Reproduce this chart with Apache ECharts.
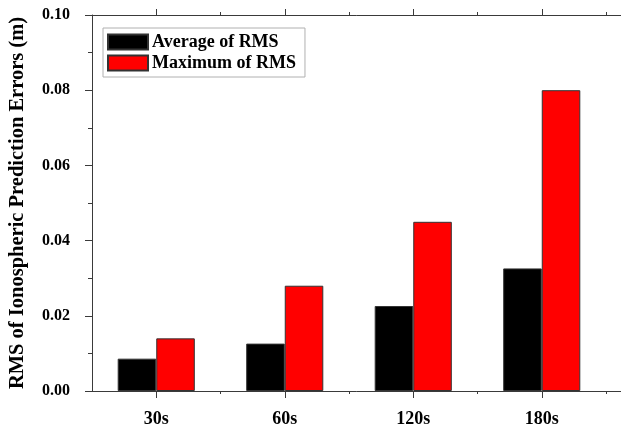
<!DOCTYPE html>
<html>
<head>
<meta charset="utf-8">
<script src="https://cdn.jsdelivr.net/npm/echarts@6/dist/echarts.min.js"></script>
<style>
  html, body { margin: 0; padding: 0; background: #fff; }
  #chart { width: 621px; height: 424px; }
</style>
</head>
<body>
<div id="chart"></div>
<script>
// Prediction intervals and RMS of ionospheric prediction errors (m)
const categories = ['30s', '60s', '120s', '180s'];
const averageRms = [0.0086, 0.0126, 0.0226, 0.0326];
const maximumRms = [0.014, 0.028, 0.045, 0.080];
const seriesNames = ['Average of RMS', 'Maximum of RMS'];

const FONT = '"Liberation Serif", "Times New Roman", serif';
const AXIS_COLOR = '#3a3a3a';

function tickAxis(position, len, align, showLabel) {
  return {
    type: 'category',
    gridIndex: 0,
    position: position,
    data: categories,
    axisLine: { show: false },
    axisTick: {
      show: true,
      alignWithLabel: align,
      inside: false,
      length: len,
      lineStyle: { color: AXIS_COLOR, width: 1 },
      interval: align ? 0 : function (i) { return i > 0; }
    },
    axisLabel: showLabel ? {
      show: true,
      margin: 19,
      color: '#000',
      fontFamily: FONT,
      fontWeight: 'bold',
      fontSize: 18
    } : { show: false },
    splitLine: { show: false }
  };
}

function frameLine(position) {
  return {
    type: 'value',
    gridIndex: 1,
    position: position,
    min: 0,
    max: 1,
    axisLine: { show: true, onZero: false, lineStyle: { color: AXIS_COLOR, width: 1 } },
    axisTick: { show: false },
    axisLabel: { show: false },
    splitLine: { show: false }
  };
}

const chart = echarts.init(document.getElementById('chart'), null, { renderer: 'canvas' });

chart.setOption({
  backgroundColor: '#fff',
  animation: false,
  grid: [
    { left: 92, right: 15, top: 15, bottom: 33, outerBoundsMode: 'none', containLabel: false },
    { left: 92, right: -6, top: 15, bottom: 33, outerBoundsMode: 'none', containLabel: false }
  ],
  legend: {
    left: 103,
    top: 28,
    orient: 'vertical',
    itemWidth: 40,
    itemHeight: 15,
    itemGap: 3,
    padding: [5, 9, 5, 4],
    borderColor: '#b0b0b0',
    borderWidth: 1,
    borderRadius: 0,
    icon: 'rect',
    textStyle: {
      color: '#000',
      fontFamily: FONT,
      fontWeight: 'bold',
      fontSize: 18,
      padding: [0, 0, 0, -1]
    },
    data: seriesNames
  },
  xAxis: [
    tickAxis('bottom', 7, true, true),
    tickAxis('bottom', 3, false, false),
    tickAxis('top', 6, true, false),
    tickAxis('top', 3, false, false),
    frameLine('bottom'),
    frameLine('top')
  ],
  yAxis: [
    {
      type: 'value',
      gridIndex: 0,
      position: 'left',
      min: 0,
      max: 0.1,
      interval: 0.02,
      name: 'RMS of Ionospheric Prediction Errors (m)',
      nameLocation: 'middle',
      nameGap: 64,
      nameTextStyle: {
        color: '#000',
        fontFamily: FONT,
        fontWeight: 'bold',
        fontSize: 20.5
      },
      axisLine: { show: true, lineStyle: { color: AXIS_COLOR, width: 1 } },
      axisTick: { show: true, inside: false, length: 7, lineStyle: { color: AXIS_COLOR } },
      minorTick: { show: true, splitNumber: 2, length: 4, lineStyle: { color: AXIS_COLOR } },
      axisLabel: {
        margin: 22,
        color: '#000',
        fontFamily: FONT,
        fontWeight: 'bold',
        fontSize: 16,
        formatter: function (v) { return v.toFixed(2); }
      },
      splitLine: { show: false },
      minorSplitLine: { show: false }
    },
    { type: 'value', gridIndex: 1, show: false, min: 0, max: 1 }
  ],
  series: [
    {
      name: seriesNames[0],
      type: 'bar',
      xAxisIndex: 0,
      yAxisIndex: 0,
      data: averageRms,
      barWidth: '30%',
      barGap: '0%',
      itemStyle: { color: '#000000', borderColor: '#333', borderWidth: 1 }
    },
    {
      name: seriesNames[1],
      type: 'bar',
      xAxisIndex: 0,
      yAxisIndex: 0,
      data: maximumRms,
      barWidth: '30%',
      barGap: '0%',
      itemStyle: { color: '#ff0000', borderColor: '#333', borderWidth: 1 }
    }
  ]
});
</script>
</body>
</html>
